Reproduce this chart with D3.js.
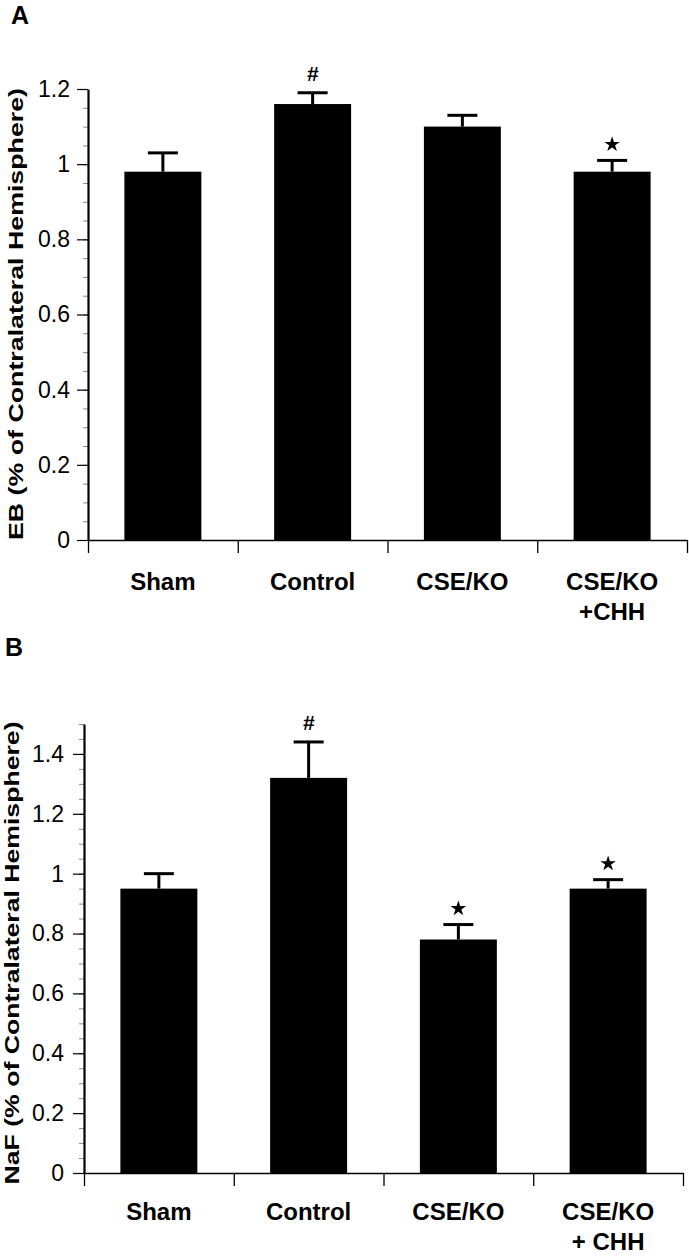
<!DOCTYPE html>
<html>
<head>
<meta charset="utf-8">
<script src="https://cdn.jsdelivr.net/npm/d3@7"></script>
<style>
	body { margin: 0; background: #fff; }
	svg { display: block; font-family: 'Liberation Sans', Arial, sans-serif; }
</style>
</head>
<body>
<div id="chart"></div>
<script>
// categories (each entry = label lines)
const categoriesA = [['Sham'], ['Control'], ['CSE/KO'], ['CSE/KO', '+CHH']];
const categoriesB = [['Sham'], ['Control'], ['CSE/KO'], ['CSE/KO', '+ CHH']];

// panel A: Evans blue
const ebMeans = [0.98, 1.16, 1.10, 0.98];
const ebErrors = [0.05, 0.03, 0.03, 0.03];
const ebMarks = ['', '#', '', '*'];
const ebTicks = [0, 0.2, 0.4, 0.6, 0.8, 1, 1.2];

// panel B: sodium fluorescein
const nafMeans = [0.95, 1.32, 0.78, 0.95];
const nafErrors = [0.05, 0.12, 0.05, 0.03];
const nafMarks = ['', '#', '*', '*'];
const nafTicks = [0, 0.2, 0.4, 0.6, 0.8, 1, 1.2, 1.4];

const fmt = d3.format('~g');

const svg = d3.select('#chart').append('svg')
	.attr('width', 689)
	.attr('height', 1256);

function drawPanel(opt) {
	const g = svg.append('g');
	const n = opt.cats.length;

	const y = d3.scaleLinear().domain([0, opt.yMax]).range([opt.yBase, opt.yTop]);
	const x = d3.scaleBand().domain(d3.range(n)).range([opt.x0, opt.x1])
		.paddingInner(0.486).paddingOuter(0.243);
	const xEdge = d3.scaleLinear().domain([0, n]).range([opt.x0, opt.x1]);

	// bars
	g.append('g').selectAll('rect')
		.data(opt.means)
		.join('rect')
		.attr('x', (d, i) => x(i))
		.attr('y', d => y(d))
		.attr('width', x.bandwidth())
		.attr('height', d => opt.yBase - y(d))
		.attr('fill', '#000');

	// error bars (upper only)
	const eb = g.append('g').attr('stroke', '#000').attr('stroke-width', 3);
	opt.means.forEach((m, i) => {
		const cx = x(i) + x.bandwidth() / 2;
		const top = y(m + opt.errors[i]);
		eb.append('line').attr('x1', cx).attr('x2', cx).attr('y1', y(m)).attr('y2', top);
		eb.append('line').attr('x1', cx - 15).attr('x2', cx + 15).attr('y1', top).attr('y2', top);

		const mark = opt.marks[i];
		if (mark === '*') {
			g.append('path')
				.attr('d', d3.symbol(d3.symbolStar, 75)())
				.attr('transform', `translate(${cx},${top - 16})`)
				.attr('fill', '#000');
		} else if (mark === '#') {
			g.append('text')
				.attr('x', cx).attr('y', top - 12)
				.attr('text-anchor', 'middle')
				.attr('font-size', 21)
				.attr('font-weight', 'bold')
				.attr('font-style', 'italic')
				.text(mark);
		}
	});

	// minor y ticks
	g.append('g')
		.attr('transform', `translate(${opt.x0},0)`)
		.call(d3.axisLeft(y).tickValues(d3.range(0, opt.yMax + 0.001, 0.05)).tickSize(5).tickFormat(''))
		.call(s => s.select('.domain').remove())
		.call(s => s.selectAll('line').attr('stroke', '#888').attr('stroke-width', 1));

	// major y ticks
	g.append('g')
		.attr('transform', `translate(${opt.x0},0)`)
		.call(d3.axisLeft(y).tickValues(opt.ticks).tickSize(11).tickSizeOuter(0).tickPadding(opt.tickPad).tickFormat(fmt))
		.call(s => s.select('.domain').attr('stroke-width', 2.2))
		.call(s => s.selectAll('line').attr('stroke-width', 1.2))
		.call(s => s.selectAll('text')
			.attr('font-size', 23)
			.attr('font-family', "'Liberation Sans', Arial, sans-serif")
			.attr('fill', '#000'));

	// x axis with ticks at band edges
	g.append('g')
		.attr('transform', `translate(0,${opt.yBase})`)
		.call(d3.axisBottom(xEdge).tickValues(d3.range(n + 1)).tickSize(13).tickSizeOuter(0).tickFormat(''))
		.call(s => s.select('.domain').attr('stroke-width', 1.6))
		.call(s => s.selectAll('line').attr('stroke-width', 1.3));

	// category labels
	const lab = g.append('g')
		.attr('font-size', 24)
		.attr('font-weight', 'bold')
		.attr('text-anchor', 'middle');
	opt.cats.forEach((lines, i) => {
		const t = lab.append('text')
			.attr('x', x(i) + x.bandwidth() / 2)
			.attr('y', opt.labelY);
		lines.forEach((ln, j) => {
			t.append('tspan')
				.attr('x', x(i) + x.bandwidth() / 2)
				.attr('dy', j === 0 ? 0 : opt.lineGap)
				.text(ln);
		});
	});

	// y axis title
	g.append('text')
		.attr('transform', `translate(${opt.titleX},${opt.titleY}) rotate(-90)`)
		.attr('text-anchor', 'middle')
		.attr('font-size', 21)
		.attr('font-weight', 'bold')
		.attr('textLength', opt.titleLen)
		.attr('lengthAdjust', 'spacingAndGlyphs')
		.text(opt.title);

	// panel letter
	g.append('text')
		.attr('x', opt.letterX).attr('y', opt.letterY)
		.attr('font-size', 25)
		.attr('font-weight', 'bold')
		.text(opt.letter);
}

drawPanel({
	cats: categoriesA, means: ebMeans, errors: ebErrors, marks: ebMarks, ticks: ebTicks,
	yMax: 1.2, yTop: 89, yBase: 540, x0: 88, x1: 687, tickPad: 7,
	labelY: 590, lineGap: 30,
	title: 'EB (% of Contralateral Hemisphere)', titleX: 23, titleY: 314, titleLen: 452,
	letter: 'A', letterX: 11, letterY: 24
});

drawPanel({
	cats: categoriesB, means: nafMeans, errors: nafErrors, marks: nafMarks, ticks: nafTicks,
	yMax: 1.5, yTop: 724, yBase: 1173, x0: 84, x1: 683, tickPad: 9,
	labelY: 1220, lineGap: 30,
	title: 'NaF (% of Contralateral Hemisphere)', titleX: 19, titleY: 953, titleLen: 463,
	letter: 'B', letterX: 5, letterY: 656
});
</script>
</body>
</html>
